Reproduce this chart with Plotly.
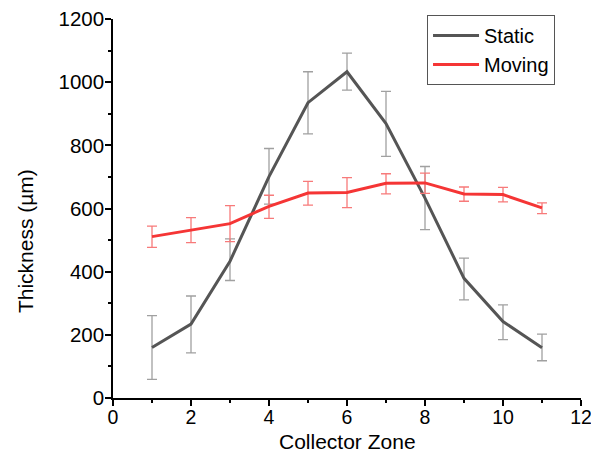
import plotly.graph_objects as go

zones = [1, 2, 3, 4, 5, 6, 7, 8, 9, 10, 11]
static_vals = [160, 234, 433, 701, 935, 1033, 869, 633, 379, 242, 159]
static_hi = [261, 323, 504, 790, 1033, 1092, 971, 733, 443, 295, 202]
static_lo = [59, 143, 372, 614, 836, 975, 765, 533, 311, 185, 118]
moving_vals = [511, 531, 552, 607, 649, 651, 680, 681, 646, 644, 602]
moving_hi = [544, 571, 609, 642, 686, 698, 710, 712, 668, 667, 618]
moving_lo = [477, 492, 495, 569, 611, 603, 646, 648, 623, 621, 584]

x_title = "Collector Zone"
y_title = "Thickness (µm)"

FONT = "Arial, Liberation Sans, sans-serif"
FS = 21

fig = go.Figure()
fig.add_trace(go.Scatter(
    x=zones, y=static_vals, mode="lines", name="Static",
    line=dict(color="#555555", width=3),
    error_y=dict(type="data", symmetric=False,
                 array=[h - v for h, v in zip(static_hi, static_vals)],
                 arrayminus=[v - l for l, v in zip(static_lo, static_vals)],
                 color="#a0a0a0", thickness=1.3, width=5),
))
fig.add_trace(go.Scatter(
    x=zones, y=moving_vals, mode="lines", name="Moving",
    line=dict(color="#f53535", width=3),
    error_y=dict(type="data", symmetric=False,
                 array=[h - v for h, v in zip(moving_hi, moving_vals)],
                 arrayminus=[v - l for l, v in zip(moving_lo, moving_vals)],
                 color="#f77a7a", thickness=1.3, width=5),
))

fig.update_layout(
    width=591, height=453,
    margin=dict(l=113, r=10, t=19, b=55),
    paper_bgcolor="white", plot_bgcolor="white",
    font=dict(family=FONT, size=FS, color="black"),
    showlegend=True,
    legend=dict(x=0.671, y=1.0106, xanchor="left", yanchor="top",
                bordercolor="#555555", borderwidth=1, bgcolor="white",
                font=dict(size=20), tracegroupgap=0,
                itemwidth=46),
    xaxis=dict(range=[0, 12], dtick=2, tick0=0, showgrid=False, zeroline=False,
               automargin=False, ticklabeloverflow="allow",
               showline=True, linecolor="black", linewidth=1.5,
               ticks="outside", ticklen=6, tickwidth=1.5, tickcolor="black",
               ticklabelstandoff=-5,
               minor=dict(dtick=1, ticks="outside", ticklen=3, tickwidth=1.5, tickcolor="black"),
               tickfont=dict(size=19.5)),
    yaxis=dict(range=[0, 1200], dtick=200, tick0=0, showgrid=False, zeroline=False,
               automargin=False, ticklabeloverflow="allow",
               showline=True, linecolor="black", linewidth=1.5,
               ticks="outside", ticklen=6, tickwidth=1.5, tickcolor="black",
               ticklabelstandoff=-3,
               minor=dict(dtick=100, ticks="outside", ticklen=3, tickwidth=1.5, tickcolor="black"),
               tickfont=dict(size=20.5)),
    annotations=[
        dict(text=x_title, xref="paper", yref="paper", x=0.5, y=-0.1135,
             xanchor="center", yanchor="middle", showarrow=False,
             font=dict(size=FS)),
        dict(text=y_title, xref="paper", yref="paper", x=-0.188, y=0.414,
             xanchor="center", yanchor="middle", showarrow=False, textangle=-90,
             font=dict(size=FS)),
    ],
)

fig.write_html(
    "out.html",
    config={"displayModeBar": False},
    post_script="document.body.style.margin='0';document.body.style.overflow='hidden';",
)
